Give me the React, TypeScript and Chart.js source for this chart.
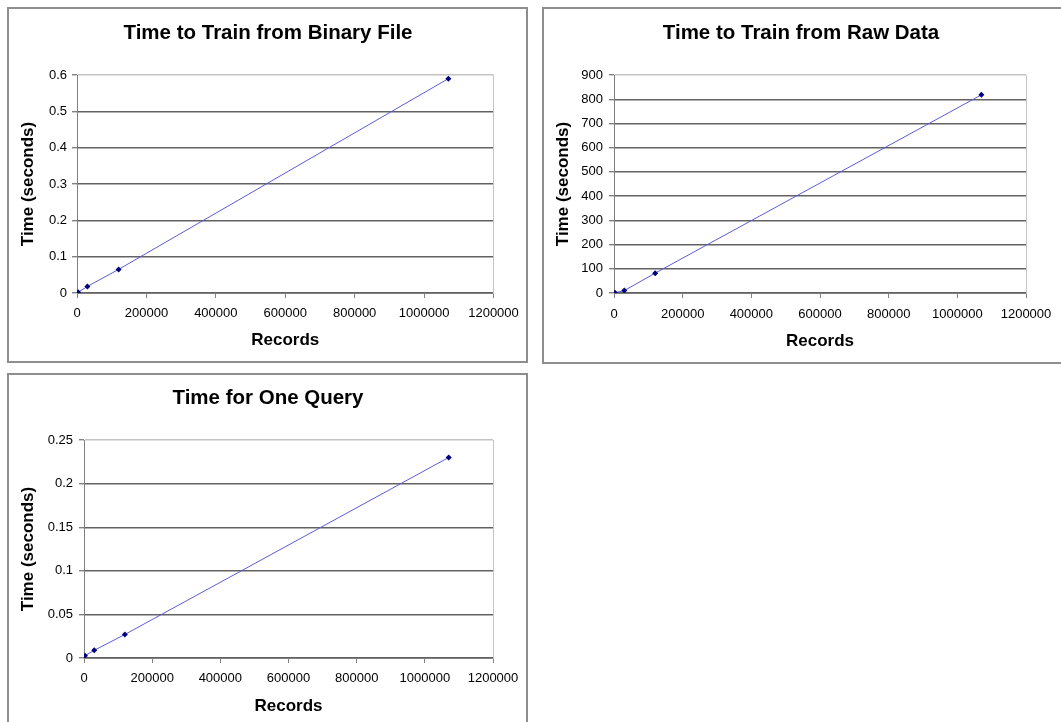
import React, { useEffect, useRef } from 'react';
import { Chart, registerables } from 'chart.js';

Chart.register(...registerables);

// ---- data ----
const RECORDS = [3000, 30000, 120000, 1070000];
const BINARY_TIME = [0.002, 0.018, 0.065, 0.59];
const RAW_TIME = [1, 10, 82, 818];
const QUERY_TIME = [0.0027, 0.0088, 0.027, 0.23];

const X_TICKS = [0, 200000, 400000, 600000, 800000, 1000000, 1200000];
const Y_TICKS_BINARY = [0, 0.1, 0.2, 0.3, 0.4, 0.5, 0.6];
const Y_TICKS_RAW = [0, 100, 200, 300, 400, 500, 600, 700, 800, 900];
const Y_TICKS_QUERY = [0, 0.05, 0.1, 0.15, 0.2, 0.25];

const TITLE_BINARY = 'Time to Train from Binary File';
const TITLE_RAW = 'Time to Train from Raw Data';
const TITLE_QUERY = 'Time for One Query';
const X_TITLE = 'Records';
const Y_TITLE = 'Time (seconds)';

const FONT = "'Liberation Sans', Arial, Helvetica, sans-serif";

type Geo = {
  w: number; h: number;
  plotL: number; plotR: number; plotT: number; plotB: number;
  titleCx: number; titleCy: number;
  yTitleCx: number; yLabelGap: number;
  xLabelCy: number; xTitleCy: number;
};

function fmt(v: number) {
  return String(parseFloat(v.toFixed(6)));
}

function Panel(props: { title: string; ys: number[]; yTicks: number[]; geo: Geo }) {
  const ref = useRef<HTMLCanvasElement>(null);
  const { title, ys, yTicks, geo } = props;
  useEffect(() => {
    if (!ref.current) return;
    const L = 4;
    const titleSize = 20.5;
    const axisTitleSize = 17;
    const R = Math.max(0, L + geo.w - 2 * geo.titleCx);
    const rightW = geo.w - R - geo.plotR;
    const yW = geo.plotL - L;
    const xH = geo.h - geo.plotB;
    const tickLen = 5;
    const yMax = yTicks[yTicks.length - 1];
    const chart = new Chart(ref.current, {
      type: 'line',
      data: {
        datasets: [
          {
            data: RECORDS.map((x, i) => ({ x, y: ys[i] })),
            borderColor: '#5c5cd8',
            borderWidth: 1,
            pointStyle: 'rectRot',
            pointRadius: 3,
            pointBackgroundColor: '#000080',
            pointBorderColor: '#000080',
            pointBorderWidth: 0,
            tension: 0,
            xAxisID: 'x',
            yAxisID: 'y',
          },
        ],
      },
      options: {
        responsive: false,
        animation: false,
        events: [],
        layout: { padding: { left: L, right: R, top: 0, bottom: 0 } },
        plugins: {
          legend: { display: false },
          tooltip: { enabled: false },
          title: {
            display: true,
            text: title,
            color: '#000',
            font: { family: FONT, size: titleSize, weight: 'bold', lineHeight: 1.2 },
            padding: { top: geo.titleCy - titleSize * 0.6, bottom: geo.plotT - geo.titleCy - titleSize * 0.6 },
          },
        },
        scales: {
          x: {
            type: 'linear',
            position: 'bottom',
            min: X_TICKS[0],
            max: X_TICKS[X_TICKS.length - 1],
            afterBuildTicks: (s: any) => { s.ticks = X_TICKS.map((v) => ({ value: v })); },
            afterFit: (s: any) => { s.height = xH; },
            ticks: {
              color: '#000',
              font: { family: FONT, size: 13 },
              padding: geo.xLabelCy - geo.plotB - tickLen - 7.8,
              maxRotation: 0,
              autoSkip: false,
              callback: (v: any) => fmt(Number(v)),
            },
            grid: { drawOnChartArea: false, drawTicks: true, tickLength: tickLen, tickColor: '#808080', color: '#808080' },
            border: { display: true, color: '#808080', width: 1 },
            title: {
              display: true,
              text: X_TITLE,
              color: '#000',
              font: { family: FONT, size: axisTitleSize, weight: 'bold', lineHeight: 1.2 },
              padding: { top: 0, bottom: geo.h - geo.xTitleCy - axisTitleSize * 0.6 },
            },
          },
          y: {
            type: 'linear',
            position: 'left',
            min: yTicks[0],
            max: yMax,
            afterBuildTicks: (s: any) => { s.ticks = yTicks.map((v) => ({ value: v })); },
            afterFit: (s: any) => { s.width = yW; },
            ticks: {
              color: '#000',
              font: { family: FONT, size: 13 },
              padding: geo.yLabelGap - tickLen,
              autoSkip: false,
              callback: (v: any) => fmt(Number(v)),
            },
            grid: {
              drawOnChartArea: true,
              drawTicks: true,
              tickLength: tickLen,
              tickColor: '#808080',
              lineWidth: 1.4,
              color: (c: any) => (c.tick && Math.abs(c.tick.value - yMax) < 1e-9 ? '#c4c4c4' : '#626262'),
            },
            border: { display: true, color: '#808080', width: 1 },
            title: {
              display: true,
              text: Y_TITLE,
              color: '#000',
              font: { family: FONT, size: axisTitleSize, weight: 'bold', lineHeight: 1.2 },
              padding: { top: geo.yTitleCx - L - axisTitleSize * 0.6, bottom: 0 },
            },
          },
          yR: {
            type: 'linear',
            position: 'right',
            display: true,
            afterFit: (s: any) => { s.width = rightW; },
            ticks: { display: false },
            grid: { display: false, drawTicks: false },
            border: { display: true, color: '#c4c4c4', width: 1 },
          },
        },
      },
    } as any);
    return () => chart.destroy();
  }, [title, ys, yTicks, geo]);
  return <canvas ref={ref} width={geo.w} height={geo.h} style={{ display: 'block' }} />;
}

const GEO_BINARY: Geo = {
  w: 517, h: 352, plotL: 68, plotR: 485, plotT: 66, plotB: 284,
  titleCx: 259, titleCy: 24, yTitleCx: 19, yLabelGap: 10, xLabelCy: 304, xTitleCy: 331,
};
const GEO_RAW: Geo = {
  w: 521, h: 353, plotL: 70, plotR: 482, plotT: 66, plotB: 284,
  titleCx: 257, titleCy: 24, yTitleCx: 19, yLabelGap: 11, xLabelCy: 305, xTitleCy: 332,
};
const GEO_QUERY: Geo = {
  w: 517, h: 352, plotL: 75, plotR: 484, plotT: 65, plotB: 283,
  titleCx: 259, titleCy: 23, yTitleCx: 19, yLabelGap: 11, xLabelCy: 303, xTitleCy: 331,
};

const boxStyle = (left: number, top: number, w: number, h: number): React.CSSProperties => ({
  position: 'absolute',
  left,
  top,
  width: w,
  height: h,
  boxSizing: 'border-box',
  border: '2px solid #8e8e8e',
  background: '#fff',
});

export default function App() {
  return (
    <div
      style={{
        position: 'absolute',
        left: 0,
        top: 0,
        width: 1061,
        height: 722,
        overflow: 'hidden',
        background: '#fff',
      }}
    >
      <div style={boxStyle(7, 7, 521, 356)}>
        <Panel title={TITLE_BINARY} ys={BINARY_TIME} yTicks={Y_TICKS_BINARY} geo={GEO_BINARY} />
      </div>
      <div style={boxStyle(542, 7, 525, 357)}>
        <Panel title={TITLE_RAW} ys={RAW_TIME} yTicks={Y_TICKS_RAW} geo={GEO_RAW} />
      </div>
      <div style={boxStyle(7, 373, 521, 356)}>
        <Panel title={TITLE_QUERY} ys={QUERY_TIME} yTicks={Y_TICKS_QUERY} geo={GEO_QUERY} />
      </div>
    </div>
  );
}
